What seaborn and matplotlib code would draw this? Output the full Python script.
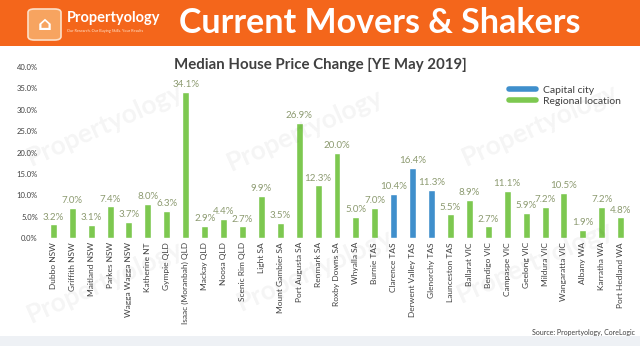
import matplotlib
matplotlib.use("Agg")
import matplotlib.pyplot as plt
from matplotlib.patches import Rectangle, FancyBboxPatch
from matplotlib.lines import Line2D
import seaborn as sns
import pandas as pd

# Locations and median house price change (%), year ending May 2019
locations = [
    "Dubbo NSW", "Griffith NSW", "Maitland NSW", "Parkes NSW", "Wagga Wagga NSW",
    "Katherine NT", "Gympie QLD", "Isaac (Moranbah) QLD", "Mackay QLD", "Noosa QLD",
    "Scenic Rim QLD", "Light SA", "Mount Gambier SA", "Port Augusta SA", "Renmark SA",
    "Roxby Downs SA", "Whyalla SA", "Burnie TAS", "Clarence TAS", "Derwent Valley TAS",
    "Glenorchy TAS", "Launceston TAS", "Ballarat VIC", "Bendigo VIC", "Campaspe VIC",
    "Geelong VIC", "Mildura VIC", "Wangaratta VIC", "Albany WA", "Karratha WA",
    "Port Hedland WA",
]
change_pct = [
    3.2, 7.0, 3.1, 7.4, 3.7,
    8.0, 6.3, 34.1, 2.9, 4.4,
    2.7, 9.9, 3.5, 26.9, 12.3,
    20.0, 5.0, 7.0, 10.4, 16.4,
    11.3, 5.5, 8.9, 2.7, 11.1,
    5.9, 7.2, 10.5, 1.9, 7.2,
    4.8,
]
capital_cities = ["Clarence TAS", "Derwent Valley TAS", "Glenorchy TAS"]
series_names = ["Capital city", "Regional location"]
y_ticks = [0, 5, 10, 15, 20, 25, 30, 35, 40]

df = pd.DataFrame({"location": locations, "change": change_pct})
df["type"] = [series_names[0] if loc in capital_cities else series_names[1]
              for loc in locations]

BLUE = "#3f8fcc"
GREEN = "#7dc850"
ORANGE = "#f4661b"
LABEL_COL = "#8c9a70"
TEXT_COL = "#404040"
palette = {series_names[0]: BLUE, series_names[1]: GREEN}

sns.set_theme(style="white")
plt.rcParams["font.family"] = ["Lato", "DejaVu Sans"]

fig = plt.figure(figsize=(6.4, 3.46), dpi=100)
W, H = 640, 346

# Orange header band
fig.patches.append(Rectangle((0, 1 - 46 / H), 1, 46 / H, transform=fig.transFigure,
                             facecolor=ORANGE, edgecolor="none", zorder=0))
# Light footer strip
fig.patches.append(Rectangle((0, 0), 1, 10 / H, transform=fig.transFigure,
                             facecolor="#eef1f5", edgecolor="none", zorder=0))

# Logo badge
fig.patches.append(FancyBboxPatch((28 / W, 1 - 40 / H), 33 / W, 31 / H,
                                  boxstyle="round,pad=0,rounding_size=0.01",
                                  transform=fig.transFigure, facecolor="#f7a460",
                                  edgecolor="#fde0c8", linewidth=1.2, zorder=1))
fig.text(44.5 / W, 1 - 24.5 / H, "⌂", color="white", fontsize=14, ha="center",
         va="center", family=["DejaVu Sans"], fontweight="bold")
fig.text(67 / W, 1 - 18 / H, "Propertyology", color="white", fontsize=10.5,
         fontweight="bold", ha="left", va="center")
fig.text(67 / W, 1 - 31 / H, "Our Research. Our Buying Skills. Your Results", color="#ffe3cc",
         fontsize=2.8, ha="left", va="center")
fig.text(380 / W, 1 - 23 / H, "Current Movers & Shakers", color="white", fontsize=24.5,
         fontweight="bold", ha="center", va="center")

# Faint watermarks
for (wx, wy) in [(105, 125), (305, 130), (540, 125), (105, 282), (315, 270), (535, 262)]:
    fig.text(wx / W, 1 - wy / H, "Propertyology", fontsize=19, color="#000000",
             alpha=0.045, rotation=24, ha="center", va="center", fontweight="bold")

ax = fig.add_axes([42 / W, (H - 238) / H, 590 / W, 171 / H])
sns.barplot(data=df, x="location", y="change", hue="type", palette=palette,
            hue_order=series_names, dodge=False, width=0.37, ax=ax,
            order=locations, legend=False, saturation=1)

ax.set_xlim(-0.6, 30.6)
ax.set_ylim(0, 40)
ax.set_yticks(y_ticks)
ax.set_yticklabels([f"{t:.1f}%" for t in y_ticks], fontsize=5.5, color=TEXT_COL)
ax.set_xticks(range(len(locations)))
ax.set_xticklabels(locations, rotation=90, fontsize=6, color=TEXT_COL)
ax.tick_params(axis="both", length=0, pad=3)
ax.set_xlabel("")
ax.set_ylabel("")
for s in ax.spines.values():
    s.set_visible(False)
ax.patch.set_alpha(0)

for i, v in enumerate(change_pct):
    ax.annotate(f"{v:.1f}%", (i, v), xytext=(0, 2), textcoords="offset points",
                ha="center", va="bottom", fontsize=7, color=LABEL_COL)

fig.text(320 / W, 1 - 65 / H, "Median House Price Change [YE May 2019]",
         fontsize=10.8, fontweight="bold", color=TEXT_COL, ha="center", va="center")

handles = [Line2D([0], [0], color=BLUE, lw=4), Line2D([0], [0], color=GREEN, lw=4)]
fig.legend(handles, series_names, loc="upper left", bbox_to_anchor=(500 / W, 1 - 76 / H),
           frameon=False, fontsize=7.5, handlelength=2.6, labelspacing=0.2,
           handletextpad=0.6, labelcolor=TEXT_COL)

fig.text(635 / W, 1 - 332 / H, "Source: Propertyology, CoreLogic", fontsize=5,
         color=TEXT_COL, ha="right", va="center")

fig.savefig("out.png", dpi=100)
